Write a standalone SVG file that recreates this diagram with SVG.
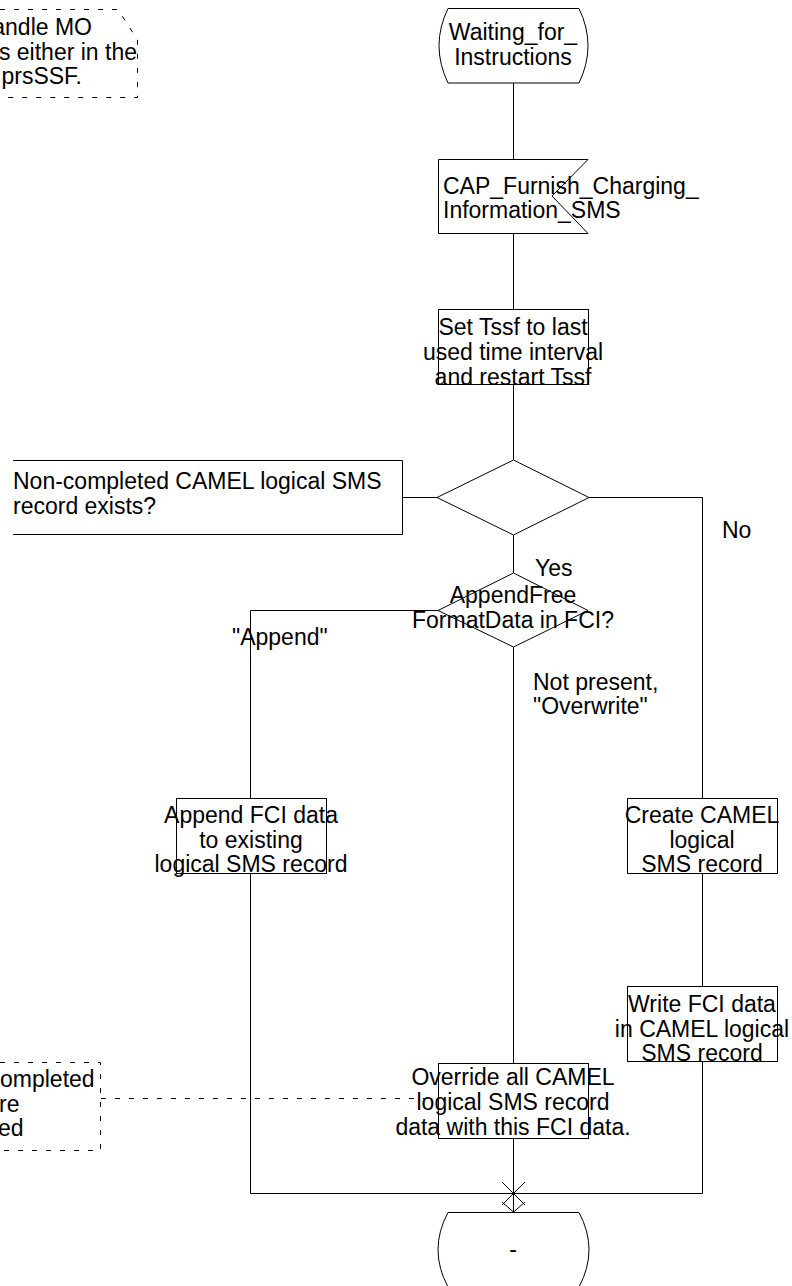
<svg xmlns="http://www.w3.org/2000/svg" width="792" height="1286" viewBox="0 0 792 1286">
<style>
.s{fill:none;stroke:#000;stroke-width:1}
.w{fill:#fff;stroke:#000;stroke-width:1}
.d{fill:none;stroke:#000;stroke-width:1;stroke-dasharray:5 9}
text{font-family:"Liberation Sans",Arial,sans-serif;font-size:23px;fill:#000}
.c{text-anchor:middle}
.e{text-anchor:end}
</style>
<rect width="792" height="1286" fill="#fff"/>
<g id="connectors">
<path class="s" d="M513.5,83 V159 M513.5,233 V309 M513.5,384 V460 M513.5,535 V573"/>
<path class="s" d="M437,497.5 H402"/>
<path class="s" d="M589,497.5 H702.5 V798"/>
<path class="s" d="M438,610.5 H250.5 V798"/>
<path class="s" d="M513.5,647 V1063"/>
<path class="s" d="M702.5,873 V986"/>
<path class="s" d="M702.5,1061 V1193.5 H250.5 V873"/>
<path class="s" d="M513.5,1138 V1212"/>
<path class="s" d="M502,1182 L525,1205 M525,1182 L502,1205 M502,1202 L513.5,1212 L525,1202"/>
<path class="d" d="M101,1098.5 H438"/>
</g>
<g id="note_top">
<path class="d" d="M0,9.5 H118 L137.5,40 V97.5 H0"/>
<text class="e" x="92" y="35">andle MO</text>
<text class="e" x="137" y="60">s either in the</text>
<text class="e" x="82" y="84">prsSSF.</text>
</g>
<g id="state_waiting">
<path class="s" d="M448,8.5 H579 Q597,45.5 579,83 H448 Q430,45.5 448,8.5 Z"/>
<text class="c" x="513" y="40">Waiting_for_</text>
<text class="c" x="513" y="65">Instructions</text>
</g>
<g id="input_fci">
<path class="s" d="M438.5,159.5 H588 L552,196 L588,233.5 H438.5 Z"/>
<text x="443" y="194">CAP_Furnish_Charging_</text>
<text x="443" y="218">Information_SMS</text>
</g>
<g id="task_tssf">
<rect class="s" x="438.5" y="309.5" width="150" height="75"/>
<text class="c" x="513" y="335">Set Tssf to last</text>
<text class="c" x="513" y="360">used time interval</text>
<text class="c" x="513" y="385">and restart Tssf</text>
</g>
<g id="decision_record">
<path class="s" d="M513.5,460 L589,497.5 L513.5,535 L437,497.5 Z"/>
<path class="s" d="M13,460.5 H402.5 V534.5 H13"/>
<text x="13" y="489">Non-completed CAMEL logical SMS</text>
<text x="13" y="514">record exists?</text>
<text x="535" y="576">Yes</text>
<text x="722" y="538">No</text>
</g>
<g id="decision_append">
<path class="s" d="M513.5,573 L588,610.5 L513.5,647 L438,610.5 Z"/>
<text class="c" x="513" y="603">AppendFree</text>
<text class="c" x="513" y="628">FormatData in FCI?</text>
<text x="232" y="645">"Append"</text>
<text x="533" y="690">Not present,</text>
<text x="533" y="714">"Overwrite"</text>
</g>
<g id="task_append">
<rect class="s" x="176.5" y="798.5" width="150" height="75"/>
<text class="c" x="251" y="823">Append FCI data</text>
<text class="c" x="251" y="848">to existing</text>
<text class="c" x="251" y="872">logical SMS record</text>
</g>
<g id="task_create">
<rect class="s" x="627.5" y="798.5" width="150" height="75"/>
<text class="c" x="702" y="823">Create CAMEL</text>
<text class="c" x="702" y="848">logical</text>
<text class="c" x="702" y="872">SMS record</text>
</g>
<g id="task_write">
<rect class="s" x="627.5" y="986.5" width="150" height="75"/>
<text class="c" x="702" y="1012">Write FCI data</text>
<text class="c" x="702" y="1037">in CAMEL logical</text>
<text class="c" x="702" y="1061">SMS record</text>
</g>
<g id="task_override">
<rect class="s" x="438.5" y="1063.5" width="150" height="75"/>
<text class="c" x="513" y="1085">Override all CAMEL</text>
<text class="c" x="513" y="1110">logical SMS record</text>
<text class="c" x="513" y="1135">data with this FCI data.</text>
</g>
<g id="note_bottom">
<path class="d" d="M0,1062.5 H100.5 V1150.5 H0"/>
<text x="0" y="1087">ompleted</text>
<text x="-1" y="1112">re</text>
<text x="-2" y="1136">ed</text>
</g>
<g id="state_end">
<path class="s" d="M448,1212.5 H579 Q599,1249.5 579,1287 M448,1212.5 Q428,1249.5 448,1287"/>
<text class="c" x="513" y="1257">-</text>
</g>
</svg>
